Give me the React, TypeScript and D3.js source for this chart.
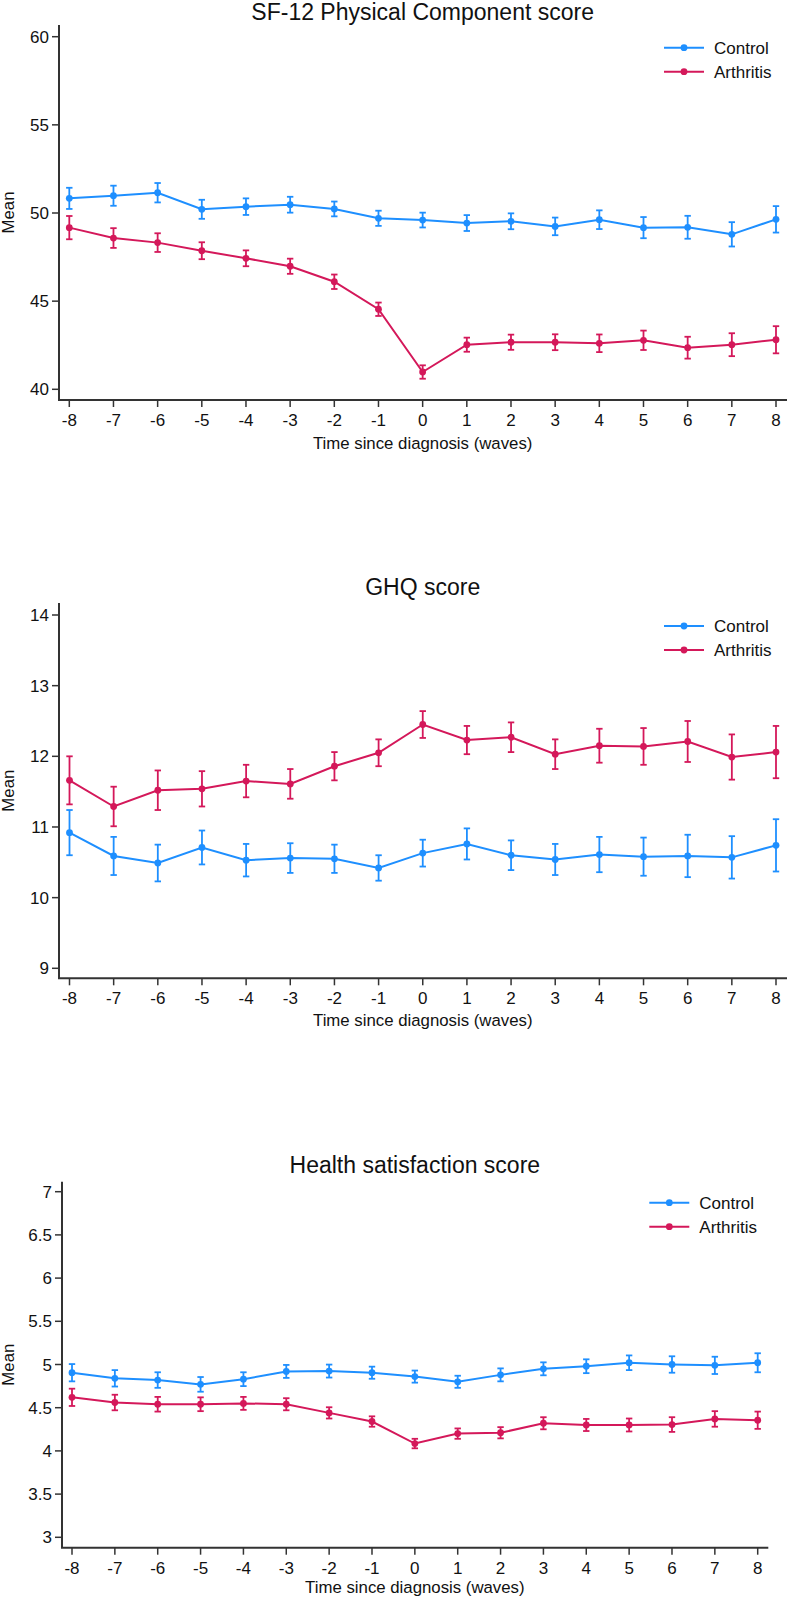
import React from "react";
import * as d3 from "d3";

// Waves relative to diagnosis
const waves = [-8, -7, -6, -5, -4, -3, -2, -1, 0, 1, 2, 3, 4, 5, 6, 7, 8];
const seriesNames = ["Control", "Arthritis"];

// SF-12 Physical Component score: means and 95% CI half-widths
const pcsControl = [50.83, 50.98, 51.15, 50.21, 50.36, 50.47, 50.23, 49.7, 49.6, 49.43, 49.53, 49.24, 49.62, 49.17, 49.19, 48.79, 49.64];
const pcsControlCi = [0.6, 0.57, 0.55, 0.54, 0.47, 0.45, 0.42, 0.43, 0.42, 0.45, 0.45, 0.5, 0.53, 0.6, 0.65, 0.69, 0.75];
const pcsArthritis = [49.17, 48.58, 48.32, 47.86, 47.43, 46.98, 46.1, 44.54, 40.98, 42.53, 42.67, 42.67, 42.61, 42.78, 42.36, 42.53, 42.81];
const pcsArthritisCi = [0.66, 0.56, 0.53, 0.48, 0.45, 0.43, 0.41, 0.38, 0.38, 0.4, 0.43, 0.45, 0.5, 0.55, 0.62, 0.65, 0.77];
const pcsTicks = [40, 45, 50, 55, 60];

// GHQ score
const ghqControl = [10.92, 10.59, 10.49, 10.71, 10.53, 10.56, 10.55, 10.42, 10.63, 10.76, 10.6, 10.54, 10.61, 10.58, 10.59, 10.57, 10.74];
const ghqControlCi = [0.32, 0.27, 0.26, 0.24, 0.23, 0.21, 0.2, 0.18, 0.19, 0.22, 0.21, 0.22, 0.25, 0.27, 0.3, 0.3, 0.37];
const ghqArthritis = [11.66, 11.29, 11.52, 11.54, 11.65, 11.61, 11.86, 12.05, 12.45, 12.23, 12.27, 12.03, 12.15, 12.14, 12.21, 11.99, 12.06];
const ghqArthritisCi = [0.34, 0.28, 0.28, 0.25, 0.23, 0.21, 0.2, 0.19, 0.19, 0.2, 0.21, 0.21, 0.24, 0.26, 0.29, 0.32, 0.37];
const ghqTicks = [9, 10, 11, 12, 13, 14];

// Health satisfaction score
const hsControl = [4.905, 4.84, 4.82, 4.77, 4.83, 4.92, 4.924, 4.905, 4.86, 4.8, 4.88, 4.95, 4.98, 5.02, 5.0, 4.99, 5.02];
const hsControlCi = [0.1, 0.095, 0.09, 0.085, 0.08, 0.075, 0.075, 0.07, 0.07, 0.07, 0.075, 0.075, 0.08, 0.085, 0.095, 0.1, 0.11];
const hsArthritis = [4.62, 4.56, 4.54, 4.54, 4.55, 4.54, 4.44, 4.34, 4.085, 4.2, 4.21, 4.32, 4.3, 4.3, 4.305, 4.37, 4.355];
const hsArthritisCi = [0.1, 0.09, 0.085, 0.08, 0.075, 0.07, 0.065, 0.06, 0.055, 0.06, 0.065, 0.07, 0.07, 0.075, 0.085, 0.09, 0.1];
const hsTicks = [3, 3.5, 4, 4.5, 5, 5.5, 6, 6.5, 7];

const COLORS = ["#1e8fff", "#d4185a"];
const AXIS = "#333333";
const FONT = "'Liberation Sans', Arial, Helvetica, sans-serif";

type Panel = {
  title: string;
  means: number[][];
  cis: number[][];
  yTicks: number[];
  yDomain: [number, number];
  left: number;
  right: number;
  top: number;
  bottom: number;
  yRange: [number, number];
  xRange: [number, number];
  titleY: number;
  xTitleGap: number;
  legendX: number;
  legendY: number;
};

const panels: Panel[] = [
  {
    title: "SF-12 Physical Component score",
    means: [pcsControl, pcsArthritis],
    cis: [pcsControlCi, pcsArthritisCi],
    yTicks: pcsTicks,
    yDomain: [40, 60],
    left: 59,
    right: 787,
    top: 25,
    bottom: 400,
    yRange: [389.3, 36.7],
    xRange: [69.3, 776],
    titleY: 20,
    xTitleGap: 49,
    legendX: 664,
    legendY: 47.7,
  },
  {
    title: "GHQ score",
    means: [ghqControl, ghqArthritis],
    cis: [ghqControlCi, ghqArthritisCi],
    yTicks: ghqTicks,
    yDomain: [9, 14],
    left: 59,
    right: 787,
    top: 603,
    bottom: 978.3,
    yRange: [968.3, 615],
    xRange: [69.5, 776],
    titleY: 595,
    xTitleGap: 48,
    legendX: 664,
    legendY: 626,
  },
  {
    title: "Health satisfaction score",
    means: [hsControl, hsArthritis],
    cis: [hsControlCi, hsArthritisCi],
    yTicks: hsTicks,
    yDomain: [3, 7],
    left: 62,
    right: 768.3,
    top: 1181.7,
    bottom: 1547.7,
    yRange: [1537.3, 1191.7],
    xRange: [72, 757.7],
    titleY: 1173,
    xTitleGap: 45.5,
    legendX: 649.3,
    legendY: 1202.7,
  },
];

function ChartPanel({ p }: { p: Panel }) {
  const x = d3.scaleLinear().domain([waves[0], waves[waves.length - 1]]).range(p.xRange);
  const y = d3.scaleLinear().domain(p.yDomain).range(p.yRange);
  const line = d3
    .line<number>()
    .x((_, i) => x(waves[i]))
    .y((v) => y(v));
  const plotCenter = (p.xRange[0] + p.xRange[1]) / 2;
  const cap = 3.2;

  return (
    <g fontFamily={FONT}>
      <text x={plotCenter} y={p.titleY} textAnchor="middle" fontSize={23} fill="#111">
        {p.title}
      </text>

      {/* axes */}
      <line x1={p.left} x2={p.left} y1={p.top} y2={p.bottom} stroke={AXIS} strokeWidth={2} />
      <line x1={p.left - 1} x2={p.right} y1={p.bottom} y2={p.bottom} stroke={AXIS} strokeWidth={2} />
      {p.yTicks.map((t) => (
        <g key={t}>
          <line x1={p.left - 7} x2={p.left} y1={y(t)} y2={y(t)} stroke={AXIS} strokeWidth={1.5} />
          <text x={p.left - 10} y={y(t)} dy="0.36em" textAnchor="end" fontSize={17} fill="#111">
            {t}
          </text>
        </g>
      ))}
      {waves.map((w) => (
        <g key={w}>
          <line x1={x(w)} x2={x(w)} y1={p.bottom} y2={p.bottom + 7} stroke={AXIS} strokeWidth={1.5} />
          <text x={x(w)} y={p.bottom + 26} textAnchor="middle" fontSize={17} fill="#111">
            {w}
          </text>
        </g>
      ))}
      <text x={plotCenter} y={p.bottom + p.xTitleGap} textAnchor="middle" fontSize={16.8} fill="#111">
        Time since diagnosis (waves)
      </text>
      <text
        transform={`translate(14,${(p.top + p.bottom) / 2}) rotate(-90)`}
        textAnchor="middle"
        fontSize={16.8}
        fill="#111"
      >
        Mean
      </text>

      {/* series */}
      {p.means.map((vals, s) => (
        <g key={s} stroke={COLORS[s]} fill={COLORS[s]}>
          {vals.map((v, i) => {
            const cx = x(waves[i]);
            const hi = y(v + p.cis[s][i]);
            const lo = y(v - p.cis[s][i]);
            return (
              <g key={i} strokeWidth={1.8}>
                <line x1={cx} x2={cx} y1={hi} y2={lo} />
                <line x1={cx - cap} x2={cx + cap} y1={hi} y2={hi} />
                <line x1={cx - cap} x2={cx + cap} y1={lo} y2={lo} />
              </g>
            );
          })}
          <path d={line(vals) || ""} fill="none" strokeWidth={2} />
          {vals.map((v, i) => (
            <circle key={i} cx={x(waves[i])} cy={y(v)} r={3.4} stroke="none" />
          ))}
        </g>
      ))}

      {/* legend */}
      {seriesNames.map((name, s) => {
        const ly = p.legendY + s * 24;
        return (
          <g key={name}>
            <line x1={p.legendX} x2={p.legendX + 40} y1={ly} y2={ly} stroke={COLORS[s]} strokeWidth={2} />
            <circle cx={p.legendX + 20} cy={ly} r={3.4} fill={COLORS[s]} />
            <text x={p.legendX + 50} y={ly} dy="0.36em" fontSize={17} fill="#111">
              {name}
            </text>
          </g>
        );
      })}
    </g>
  );
}

export default function App() {
  return (
    <svg
      width={787}
      height={1598}
      style={{ position: "absolute", left: 0, top: 0, background: "#fff" }}
    >
      <rect width={787} height={1598} fill="#fff" />
      {panels.map((p) => (
        <ChartPanel key={p.title} p={p} />
      ))}
    </svg>
  );
}
